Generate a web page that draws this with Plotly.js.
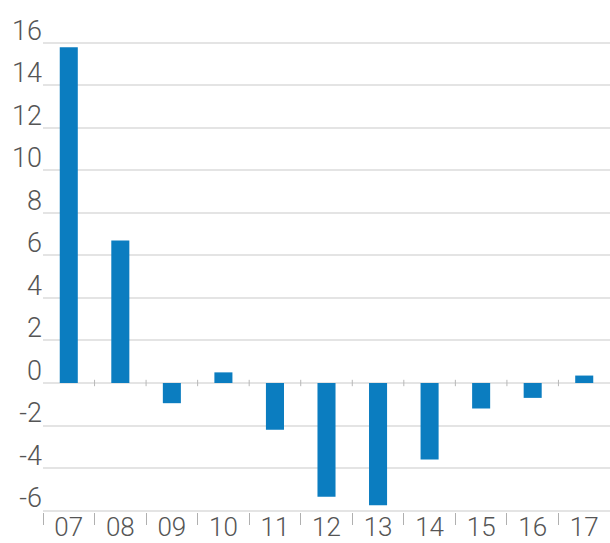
<!DOCTYPE html>
<html>
<head>
<meta charset="utf-8">
<script src="https://cdn.plot.ly/plotly-3.0.1.min.js"></script>
<style>
  html, body { margin: 0; padding: 0; background: #ffffff; }
  #chart { width: 610px; height: 543px; }
</style>
</head>
<body>
<div id="chart"></div>
<script>
// Yearly change, 2007–2017
const years = ['07', '08', '09', '10', '11', '12', '13', '14', '15', '16', '17'];
const change = [15.8, 6.7, -0.95, 0.5, -2.2, -5.35, -5.75, -3.6, -1.2, -0.7, 0.35];
const yTicks = [-6, -4, -2, 0, 2, 4, 6, 8, 10, 12, 14, 16];

const barColor = '#0b7dc0';
const textColor = '#555555';
const font = 'Roboto, "Open Sans", sans-serif';

// small marks on the zero line between categories
const boundaryMarks = years.slice(1).map((_, i) => ({
  type: 'line', xref: 'x', yref: 'y',
  x0: i + 0.5, x1: i + 0.5, y0: -0.15, y1: 0.15,
  line: { color: '#b8b8b8', width: 1 }
}));

const trace = {
  type: 'bar',
  x: years,
  y: change,
  marker: { color: barColor, line: { width: 0 } },
  hoverinfo: 'x+y'
};

const layout = {
  width: 610,
  height: 543,
  margin: { l: 43, r: 0, t: 30, b: 31 },
  paper_bgcolor: '#ffffff',
  plot_bgcolor: '#ffffff',
  showlegend: false,
  bargap: 0.65,
  font: { family: font, color: textColor, size: 26, weight: 300 },
  xaxis: {
    type: 'category',
    categoryorder: 'array',
    categoryarray: years,
    showgrid: false,
    zeroline: false,
    showline: false,
    ticks: 'outside',
    tickson: 'boundaries',
    ticklen: 12,
    tickwidth: 1,
    tickcolor: '#b0b0b0',
    ticklabelstandoff: -3,
    tickfont: { family: font, size: 26, color: textColor, weight: 300 },
    fixedrange: true
  },
  yaxis: {
    range: [-6.07, 16.61],
    tickmode: 'array',
    tickvals: yTicks,
    ticktext: yTicks.map(String),
    ticklabelposition: 'outside top',
    ticklabelshift: 6,
    showgrid: true,
    gridcolor: '#e4e4e4',
    gridwidth: 2,
    zeroline: false,
    showline: false,
    ticks: '',
    tickfont: { family: font, size: 27, color: textColor, weight: 300 },
    fixedrange: true
  },
  shapes: [
    {
      type: 'line', xref: 'paper', yref: 'y',
      x0: 0, x1: 1, y0: 0, y1: 0,
      line: { color: '#bdbdbd', width: 1.5, dash: 'dot' },
      layer: 'below'
    }
  ].concat(boundaryMarks)
};

Plotly.newPlot('chart', [trace], layout, { displayModeBar: false, staticPlot: true });
</script>
</body>
</html>
